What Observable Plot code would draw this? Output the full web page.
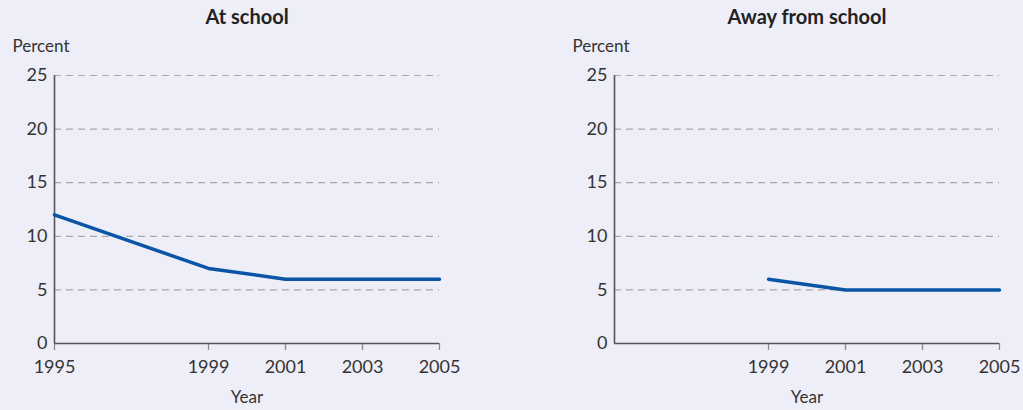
<!DOCTYPE html>
<html>
<head>
<meta charset="utf-8">
<script src="https://cdn.jsdelivr.net/npm/d3@7"></script>
<script src="https://cdn.jsdelivr.net/npm/@observablehq/plot@0.6"></script>
<style>
  html, body { margin: 0; padding: 0; background: #eeeef8; }
  #wrap { display: flex; width: 1023px; height: 410px; }
  svg { display: block; }
</style>
</head>
<body>
<div id="wrap"></div>
<script>
const panelTitles = ["At school", "Away from school"];
const atSchoolYears = [1995, 1999, 2001, 2003, 2005];
const atSchoolValues = [12, 7, 6, 6, 6];
const awayYears = [1999, 2001, 2003, 2005];
const awayValues = [6, 5, 5, 5];
const atSchoolXTicks = [1995, 1999, 2001, 2003, 2005];
const awayXTicks = [1999, 2001, 2003, 2005];
const yTicks = [0, 5, 10, 15, 20, 25];
const yLabel = "Percent";
const xLabel = "Year";

const FONT = "Lato, 'Open Sans', sans-serif";

function panel(title, years, values, xTicks, width, ml, mr) {
  const data = years.map((y, i) => ({year: y, value: values[i]}));
  return Plot.plot({
    width, height: 410,
    marginLeft: ml, marginRight: mr, marginTop: 75, marginBottom: 67,
    style: {background: "transparent", fontFamily: FONT, fontSize: "18px", color: "#333"},
    x: {domain: [1995, 2005], label: null},
    y: {domain: [0, 25], label: null},
    marks: [
      Plot.ruleY(yTicks.filter(d => d > 0), {stroke: "#a8a8b0", strokeWidth: 1.2, strokeDasharray: "7,5"}),
      Plot.axisX({ticks: xTicks, tickFormat: d => String(d), tickSize: 7, tickPadding: 10, stroke: "#8a8a8a", strokeWidth: 1.3, fill: "#333", fontSize: 18, label: null}),
      Plot.axisY({ticks: yTicks, tickSize: 0, tickPadding: 7, fill: "#333", fontSize: 18, label: null}),
      Plot.ruleY([0], {stroke: "#555", strokeWidth: 1.6}),
      Plot.ruleX([1995], {stroke: "#555", strokeWidth: 1.6}),
      Plot.line(data, {x: "year", y: "value", stroke: "#0a55a5", strokeWidth: 3.5, strokeLinejoin: "round"}),
      Plot.text([title], {frameAnchor: "top", lineAnchor: "middle", dy: -58, fontWeight: "bold", fontSize: 20, fill: "#222"}),
      Plot.text([yLabel], {frameAnchor: "top-left", lineAnchor: "middle", textAnchor: "start", dx: -42, dy: -29, fontSize: 17, fill: "#333"}),
      Plot.text([xLabel], {frameAnchor: "bottom", lineAnchor: "middle", dy: 54, fontSize: 17, fill: "#333"})
    ]
  });
}

const wrap = document.getElementById("wrap");
wrap.appendChild(panel(panelTitles[0], atSchoolYears, atSchoolValues, atSchoolXTicks, 511, 54, 72));
wrap.appendChild(panel(panelTitles[1], awayYears, awayValues, awayXTicks, 512, 103, 24));
</script>
</body>
</html>
